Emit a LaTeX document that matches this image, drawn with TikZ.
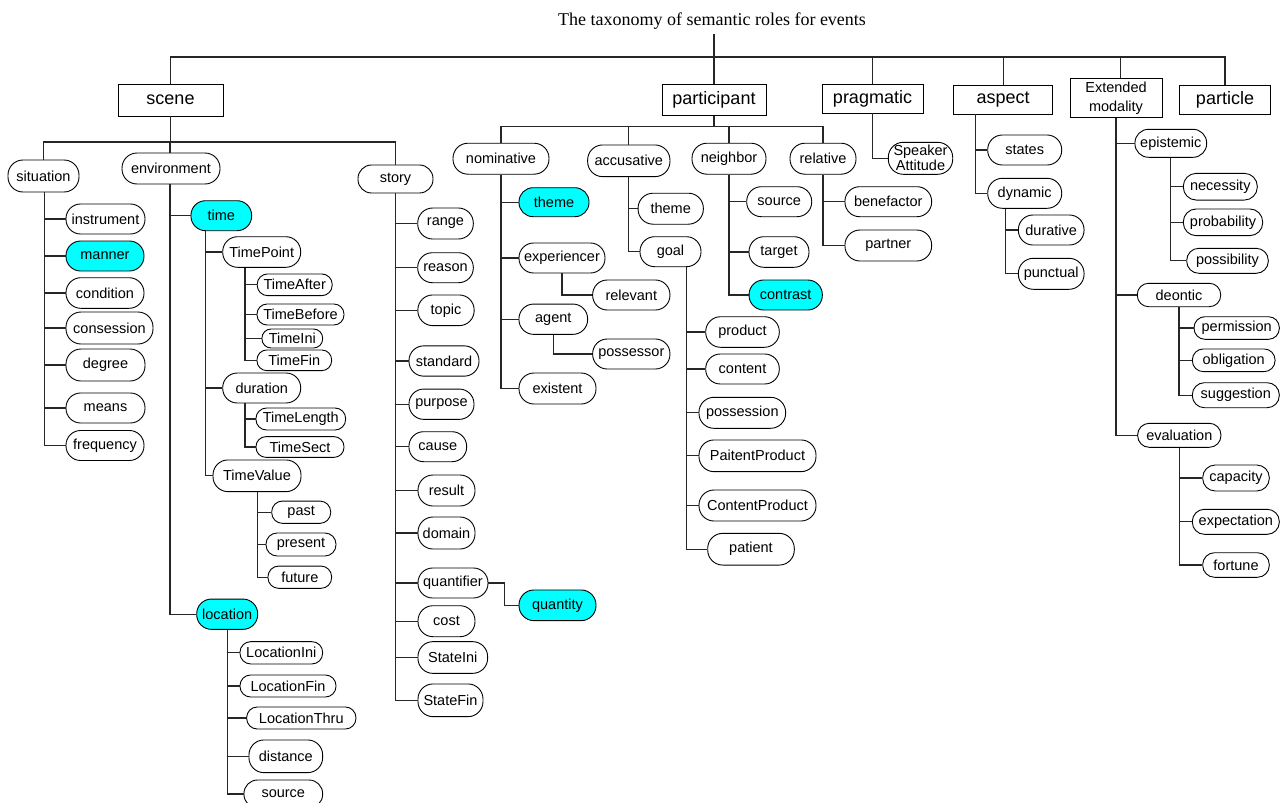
\documentclass[tikz,border=0pt]{standalone}
\usepackage{fontspec}
\setmainfont{Liberation Sans}
\newfontfamily\titlefont{Liberation Serif}
\definecolor{cyanfill}{HTML}{00FFFF}
\tikzset{
  rl/.style={draw=black, line width=0.9pt, fill=white, inner sep=0pt, align=center, font=\fontsize{14.5}{17}\selectfont},
  bx/.style={draw=black, line width=0.9pt, fill=white, inner sep=0pt, align=center, font=\fontsize{18}{20}\selectfont},
  ln/.style={line width=1.1pt, draw=black!85},
  ttl/.style={inner xsep=0pt, inner ysep=5pt, font=\titlefont\fontsize{18}{20}\selectfont}
}
\newcommand\RN[6]{\pgfmathsetmacro\rc{min(15,#5/2-0.4)}\node[rl,minimum width=#4pt,minimum height=#5pt,rounded corners=\rc pt] (#1) at (#2,#3) {#6};}
\newcommand\CN[6]{\pgfmathsetmacro\rc{min(15,#5/2-0.4)}\node[rl,fill=cyanfill,minimum width=#4pt,minimum height=#5pt,rounded corners=\rc pt] (#1) at (#2,#3) {#6};}
\begin{document}
\begin{tikzpicture}[x=1pt,y=-1pt]
\useasboundingbox (0,0) rectangle (1286,803);
% title and top boxes
\node[ttl, anchor=base] (title) at (712,25) {The taxonomy of semantic roles for events};
\node[bx, minimum width=105pt, minimum height=32pt] (scene) at (170.5,100) {scene};
\node[bx, minimum width=104pt, minimum height=31pt] (participant) at (714,99.7) {participant};
\node[bx, minimum width=101pt, minimum height=29pt] (pragmatic) at (872.5,98.5) {pragmatic};
\node[bx, minimum width=99pt, minimum height=28.3pt] (aspect) at (1003.2,99.8) {aspect};
\node[bx, minimum width=92pt, minimum height=38.6pt, font=\fontsize{14.5}{18.5}\selectfont] (extmod) at (1116,98) {Extended\\modality};
\node[bx, minimum width=91.7pt, minimum height=29pt] (particle) at (1225,99.5) {particle};
% scene subtree
\RN{situation}{43.5}{176}{71}{32}{situation}
\RN{environment}{171}{168.5}{98}{31}{environment}
\RN{story}{395.5}{179}{75}{28}{story}
\RN{instrument}{105.5}{219}{79}{30}{instrument}
\CN{manner}{105}{256}{78}{30}{manner}
\RN{condition}{105}{293}{78}{30.6}{condition}
\RN{consession}{109.5}{328}{87}{32}{consession}
\RN{degree}{105.5}{365}{79}{32}{degree}
\RN{means}{105.5}{408}{79}{30}{means}
\RN{frequency}{105}{445.5}{78}{30}{frequency}
\CN{time}{221.3}{215.7}{60.7}{30}{time}
\RN{TimePoint}{261.7}{252}{78}{30.6}{TimePoint}
\RN{TimeAfter}{294.7}{284.8}{75}{21.7}{TimeAfter}
\RN{TimeBefore}{300.5}{314.5}{87}{21}{TimeBefore}
\RN{TimeIni}{292.3}{338.5}{60.7}{19}{TimeIni}
\RN{TimeFin}{294.3}{360.3}{74.7}{20.7}{TimeFin}
\RN{duration}{261.7}{388}{78}{30}{duration}
\RN{TimeLength}{300.8}{419}{89.7}{22}{TimeLength}
\RN{TimeSect}{300}{447}{88}{20.7}{TimeSect}
\RN{TimeValue}{257}{475.8}{88}{31.7}{TimeValue}
\RN{past}{301.2}{512.2}{59}{22.3}{past}
\RN{present}{301}{544.5}{70}{23}{present}
\RN{future}{299.8}{577.2}{63.7}{22.3}{future}
\CN{location}{227.2}{614.2}{61}{30.3}{location}
\RN{LocationIni}{281.3}{652.8}{82.7}{22.3}{LocationIni}
\RN{LocationFin}{288}{686}{96}{22}{LocationFin}
\RN{LocationThru}{301.3}{718}{109.3}{22}{LocationThru}
\RN{distance}{285.8}{756.3}{73.7}{32.7}{distance}
\RN{source}{283.3}{794}{78.7}{28}{source}
\RN{range}{445.5}{223.5}{55.6}{31}{range}
\RN{reason}{445.5}{267.7}{55.6}{30}{reason}
\RN{topic}{446}{310.3}{56.3}{30.7}{topic}
\RN{standard}{444}{361}{70}{30.3}{standard}
\RN{purpose}{441.5}{404.2}{65}{30.3}{purpose}
\RN{cause}{437.8}{446.7}{57.7}{30}{cause}
\RN{result}{446.5}{490.5}{57}{31}{result}
\RN{domain}{446.5}{533}{57}{32}{domain}
\RN{quantifier}{453}{583}{70}{30}{quantifier}
\CN{quantity}{557.5}{605.3}{77}{30.7}{quantity}
\RN{cost}{446.5}{621.2}{57}{31}{cost}
\RN{StateIni}{452.8}{657.5}{69.7}{31.7}{StateIni}
\RN{StateFin}{450.5}{700.3}{65}{32.7}{StateFin}
% participant subtree
\RN{nominative}{501}{158.7}{96}{31}{nominative}
\RN{accusative}{628.8}{160.8}{82.3}{31.7}{accusative}
\RN{neighbor}{729}{158.7}{74}{31}{neighbor}
\RN{relative}{823}{158.7}{66}{31}{relative}
\CN{themeA}{554}{202.2}{70}{29}{theme}
\RN{experiencer}{562}{258}{86}{30}{experiencer}
\RN{relevant}{631.3}{295}{77.3}{30}{relevant}
\RN{agent}{553.3}{319.2}{68.7}{30.3}{agent}
\RN{possessor}{631.3}{354}{77.3}{30}{possessor}
\RN{existent}{557.5}{388.5}{77}{31}{existent}
\RN{themeB}{670.7}{208.7}{65.3}{31}{theme}
\RN{goal}{670.5}{251.7}{61}{30}{goal}
\RN{product}{742.5}{332}{73.6}{30.6}{product}
\RN{content}{742.5}{369}{73.6}{30}{content}
\RN{possession}{742.3}{412.8}{86.7}{31}{possession}
\RN{PaitentProduct}{757.5}{455.8}{117}{31.7}{PaitentProduct}
\RN{ContentProduct}{757.5}{505.5}{117}{31}{ContentProduct}
\RN{patient}{751}{549.2}{86.6}{31.7}{patient}
\RN{sourceB}{779.2}{201.7}{65}{30}{source}
\RN{target}{779}{252}{60}{30.6}{target}
\CN{contrast}{785.7}{295}{73.3}{30}{contrast}
\RN{benefactor}{888.3}{201.7}{86.7}{30}{benefactor}
\RN{partner}{888.3}{245.5}{86.7}{31}{partner}
% pragmatic, aspect, modality
\RN{speaker}{920.5}{158.3}{64.4}{32}{Speaker\\[-2pt]Attitude}
\RN{states}{1024.7}{150}{74}{30}{states}
\RN{dynamic}{1024.7}{193.3}{74}{30}{dynamic}
\RN{durative}{1051.2}{230}{65.7}{30}{durative}
\RN{punctual}{1051.2}{273.8}{65.7}{31}{punctual}
\RN{epistemic}{1170.8}{143.3}{71.7}{28}{epistemic}
\RN{necessity}{1220.3}{186.7}{74}{26.7}{necessity}
\RN{probability}{1223}{222.3}{79.4}{26.7}{probability}
\RN{possibility}{1227.5}{260.8}{81.6}{25}{possibility}
\RN{deontic}{1179}{295}{83.4}{23.4}{deontic}
\RN{permission}{1236.7}{328}{85.3}{22.6}{permission}
\RN{obligation}{1233.7}{360.3}{82.7}{22.7}{obligation}
\RN{suggestion}{1235.8}{395.2}{87}{25}{suggestion}
\RN{evaluation}{1179.3}{435.3}{83.3}{24}{evaluation}
\RN{capacity}{1236}{478}{66.6}{26}{capacity}
\RN{expectation}{1235.8}{521.8}{87}{25}{expectation}
\RN{fortune}{1236}{565}{66.6}{24.6}{fortune}
% ---------- connectors ----------
\coordinate (topbus) at (714,57);
\coordinate (scbus) at (170.5,142);
\coordinate (pbus) at (714,126.7);
\draw[ln] ([xshift=2pt]title.south) -- (participant.north);
\draw[ln] (scene.north) |- (topbus) -| (particle.north);
\draw[ln] (pragmatic.north) -- (pragmatic.north |- topbus);
\draw[ln] (aspect.north) -- (aspect.north |- topbus);
\draw[ln] ([xshift=4.7pt]extmod.north) -- ([xshift=4.7pt]extmod.north |- topbus);
% scene
\draw[ln] (scene.south) -- (scbus);
\draw[ln] (situation.north) |- (scbus) -| (story.north);
\draw[ln] ([xshift=-1pt]environment.north) -- ([xshift=-1pt]environment.north |- scbus);
\foreach \c in {instrument,manner,condition,consession,degree,means,frequency}
  \draw[ln] ([xshift=0.8pt]situation.south) |- (\c.west);
\foreach \c in {time,location}
  \draw[ln] ([xshift=-1pt]environment.south) |- (\c.west);
\foreach \c in {TimePoint,duration,TimeValue}
  \draw[ln] ([xshift=-15.6pt]time.south) |- (\c.west);
\foreach \c in {TimeAfter,TimeBefore,TimeIni,TimeFin}
  \draw[ln] ([xshift=-16.7pt]TimePoint.south) |- (\c.west);
\foreach \c in {TimeLength,TimeSect}
  \draw[ln] ([xshift=-16.7pt]duration.south) |- (\c.west);
\foreach \c in {past,present,future}
  \draw[ln] ([xshift=0.7pt]TimeValue.south) |- (\c.west);
\foreach \c in {LocationIni,LocationFin,LocationThru,distance,source}
  \draw[ln] (location.south) |- (\c.west);
\foreach \c in {range,reason,topic,standard,purpose,cause,result,domain,quantifier,cost,StateIni,StateFin}
  \draw[ln] (story.south) |- (\c.west);
\draw[ln] (quantifier.east) -- ++(16,0) |- (quantity.west);
% participant
\draw[ln] (participant.south) -- (pbus);
\draw[ln] (nominative.north) |- (pbus) -| (relative.north);
\draw[ln] (accusative.north) -- (accusative.north |- pbus);
\draw[ln] (neighbor.north) -- (neighbor.north |- pbus);
\foreach \c in {themeA,experiencer,agent,existent}
  \draw[ln] (nominative.south) |- (\c.west);
\draw[ln] (experiencer.south) |- (relevant.west);
\draw[ln] (agent.south) |- (possessor.west);
\foreach \c in {themeB,goal}
  \draw[ln] (accusative.south) |- (\c.west);
\foreach \c in {product,content,possession,PaitentProduct,ContentProduct,patient}
  \draw[ln] ([xshift=16pt]goal.south) |- (\c.west);
\foreach \c in {sourceB,target,contrast}
  \draw[ln] (neighbor.south) |- (\c.west);
\foreach \c in {benefactor,partner}
  \draw[ln] (relative.south) |- (\c.west);
% pragmatic, aspect, modality
\draw[ln] (pragmatic.south) |- (speaker.west);
\foreach \c in {states,dynamic}
  \draw[ln] ([xshift=-28pt]aspect.south) |- (\c.west);
\foreach \c in {durative,punctual}
  \draw[ln] ([xshift=-19pt]dynamic.south) |- (\c.west);
\foreach \c in {epistemic,deontic,evaluation}
  \draw[ln] (extmod.south) |- (\c.west);
\foreach \c in {necessity,probability,possibility}
  \draw[ln] (epistemic.south) |- (\c.west);
\foreach \c in {permission,obligation,suggestion}
  \draw[ln] (deontic.south) |- (\c.west);
\foreach \c in {capacity,expectation,fortune}
  \draw[ln] (evaluation.south) |- (\c.west);
\end{tikzpicture}
\end{document}
